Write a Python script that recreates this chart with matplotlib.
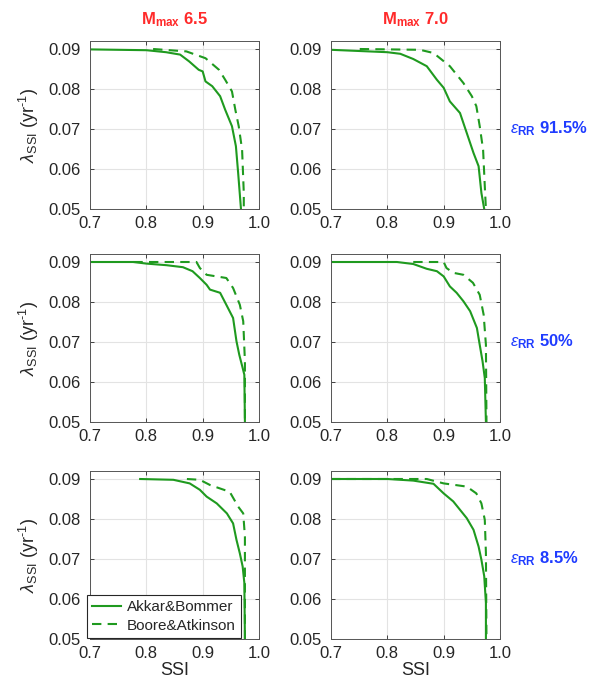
import numpy as np
from matplotlib import pyplot as plt

plt.rcParams['font.family'] = ['Liberation Sans', 'DejaVu Sans']
plt.rcParams['mathtext.fontset'] = 'custom'
plt.rcParams['mathtext.rm'] = 'Liberation Sans'
plt.rcParams['mathtext.it'] = 'Liberation Sans:italic'
plt.rcParams['mathtext.bf'] = 'Liberation Sans:bold'

col_titles = ['6.5', '7.0']
row_labels = ['91.5%', '50%', '8.5%']
series_names = ['Akkar&Bommer', 'Boore&Atkinson']

# (row, col) -> SSI / lambda values, solid = Akkar&Bommer, dashed = Boore&Atkinson
ab_ssi = {
    (0, 0): [0.70, 0.80, 0.835, 0.86, 0.876, 0.893, 0.90, 0.905, 0.917, 0.931, 0.94, 0.952, 0.959, 0.963, 0.968],
    (0, 1): [0.70, 0.80, 0.823, 0.846, 0.87, 0.888, 0.90, 0.911, 0.929, 0.941, 0.953, 0.962, 0.967, 0.972],
    (1, 0): [0.70, 0.777, 0.80, 0.836, 0.865, 0.882, 0.895, 0.907, 0.913, 0.931, 0.942, 0.954, 0.96, 0.965, 0.971, 0.974, 0.975],
    (1, 1): [0.70, 0.817, 0.846, 0.87, 0.888, 0.90, 0.911, 0.923, 0.935, 0.947, 0.959, 0.964, 0.969, 0.973, 0.975],
    (2, 0): [0.789, 0.848, 0.877, 0.895, 0.907, 0.925, 0.943, 0.954, 0.96, 0.966, 0.971, 0.974, 0.975],
    (2, 1): [0.70, 0.80, 0.846, 0.882, 0.90, 0.917, 0.929, 0.941, 0.953, 0.962, 0.967, 0.972, 0.975, 0.975],
}
ab_lam = {
    (0, 0): [0.0899, 0.0897, 0.0892, 0.0886, 0.0869, 0.0848, 0.0844, 0.0819, 0.0807, 0.0782, 0.0748, 0.0707, 0.0657, 0.059, 0.05],
    (0, 1): [0.0898, 0.0892, 0.0888, 0.0875, 0.0857, 0.0823, 0.0803, 0.0769, 0.074, 0.069, 0.064, 0.0607, 0.054, 0.05],
    (1, 0): [0.09, 0.09, 0.0896, 0.0892, 0.0887, 0.0877, 0.086, 0.0843, 0.0831, 0.0823, 0.0793, 0.076, 0.0702, 0.0668, 0.0635, 0.0618, 0.05],
    (1, 1): [0.09, 0.09, 0.0895, 0.0883, 0.0877, 0.0864, 0.0839, 0.0823, 0.0802, 0.0777, 0.0735, 0.0693, 0.0652, 0.061, 0.05],
    (2, 0): [0.09, 0.0898, 0.0889, 0.0873, 0.0856, 0.0839, 0.0814, 0.0789, 0.0748, 0.0714, 0.0681, 0.064, 0.05],
    (2, 1): [0.09, 0.09, 0.0896, 0.0888, 0.0864, 0.0844, 0.0823, 0.0802, 0.0773, 0.0731, 0.0698, 0.0657, 0.059, 0.05],
}
ba_ssi = {
    (0, 0): [0.812, 0.871, 0.905, 0.929, 0.94, 0.952, 0.958, 0.964, 0.97, 0.973, 0.973],
    (0, 1): [0.751, 0.858, 0.882, 0.911, 0.935, 0.95, 0.958, 0.964, 0.97, 0.973, 0.975],
    (1, 0): [0.777, 0.889, 0.895, 0.907, 0.942, 0.954, 0.966, 0.972, 0.975, 0.975, 0.975],
    (1, 1): [0.846, 0.90, 0.905, 0.917, 0.935, 0.952, 0.964, 0.971, 0.975, 0.976],
    (2, 0): [0.872, 0.895, 0.913, 0.948, 0.963, 0.972, 0.975, 0.975, 0.975],
    (2, 1): [0.70, 0.87, 0.90, 0.941, 0.958, 0.967, 0.973, 0.975, 0.976],
}
ba_lam = {
    (0, 0): [0.09, 0.0894, 0.0877, 0.0848, 0.0823, 0.0794, 0.0748, 0.0707, 0.0648, 0.054, 0.05],
    (0, 1): [0.09, 0.0898, 0.089, 0.0857, 0.0815, 0.0782, 0.0757, 0.0707, 0.0648, 0.0557, 0.05],
    (1, 0): [0.09, 0.09, 0.0885, 0.0868, 0.086, 0.0835, 0.0793, 0.0752, 0.0652, 0.061, 0.05],
    (1, 1): [0.09, 0.09, 0.0885, 0.0873, 0.0868, 0.0848, 0.0818, 0.0768, 0.0693, 0.05],
    (2, 0): [0.09, 0.0898, 0.0885, 0.0868, 0.0831, 0.0814, 0.0756, 0.0657, 0.05],
    (2, 1): [0.09, 0.09, 0.0889, 0.0881, 0.0864, 0.0839, 0.0798, 0.0715, 0.05],
}

green = '#1f9a1f'
tick_col = '#262626'
W, H = 592, 693
fig = plt.figure(figsize=(W / 100, H / 100), dpi=100)

lefts = [90, 331]
tops = [41, 254, 471]
aw, ah = 169, 168

for r in range(3):
    for c in range(2):
        ax = fig.add_axes([lefts[c] / W, 1 - (tops[r] + ah) / H, aw / W, ah / H])
        l1, = ax.plot(ab_ssi[(r, c)], ab_lam[(r, c)], '-', color=green, lw=1.5)
        l2, = ax.plot(ba_ssi[(r, c)], ba_lam[(r, c)], '--', color=green, lw=1.5, dashes=(4.5, 3))
        ax.set_xlim(0.7, 1.0)
        ax.set_ylim(0.05, 0.092)
        ax.set_xticks([0.7, 0.8, 0.9, 1.0])
        ax.set_xticklabels(['0.7', '0.8', '0.9', '1.0'])
        ax.set_yticks([0.05, 0.06, 0.07, 0.08, 0.09])
        ax.set_yticklabels(['0.05', '0.06', '0.07', '0.08', '0.09'])
        ax.grid(True, color='#e3e3e3', lw=0.8)
        ax.set_axisbelow(True)
        ax.tick_params(direction='in', length=3, width=0.6, top=True, right=True,
                       labelsize=12, colors=tick_col)
        ax.tick_params(axis='x', pad=5)
        ax.tick_params(axis='y', pad=7)
        for s in ax.spines.values():
            s.set_color('#555555')
            s.set_linewidth(0.7)
        if c == 0:
            ax.set_ylabel(r'$\lambda_{\rm SSI}$ (yr$^{\rm ‐1}$)', fontsize=13, color=tick_col, labelpad=5)
        if r == 2:
            ax.set_xlabel('SSI', fontsize=13, color=tick_col, labelpad=1)
        if r == 0:
            ax.set_title(r'$\mathbf{M_{max}}$ ' + col_titles[c], color='#ff2a2a',
                         fontsize=12, fontweight='bold', pad=12)
        if c == 1:
            ax.text(1.06, 0.48, r'$\varepsilon_{\mathbf{RR}}$ ' + row_labels[r], transform=ax.transAxes,
                    color='#1f3cff', fontsize=12, fontweight='bold', va='center', ha='left')
        if r == 2 and c == 0:
            leg = ax.legend([l1, l2], series_names, loc='lower left', fontsize=11,
                            bbox_to_anchor=(-0.018, 0.005),
                            fancybox=False, edgecolor='#262626', framealpha=1,
                            borderaxespad=0, handlelength=1.9, handletextpad=0.35,
                            borderpad=0.35, labelspacing=0.3)
            leg.get_frame().set_linewidth(0.8)
            for t in leg.get_texts():
                t.set_color(tick_col)

fig.savefig('out.png', dpi=100)
